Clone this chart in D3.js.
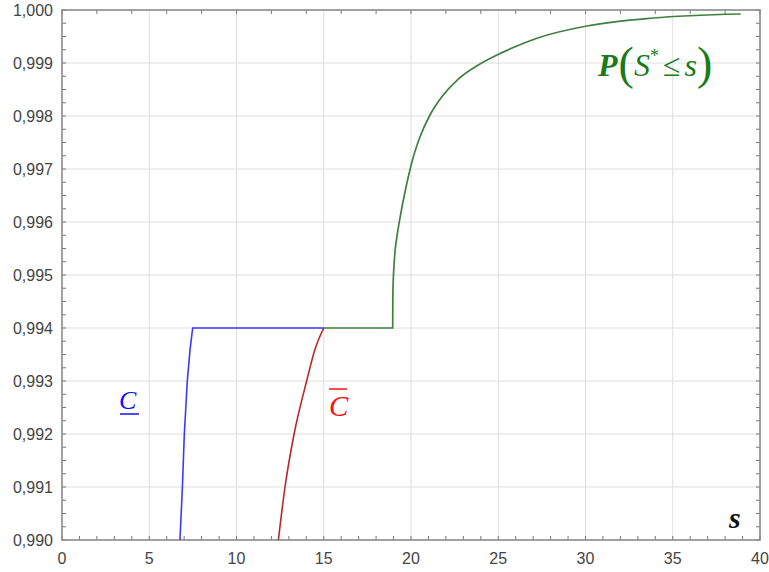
<!DOCTYPE html>
<html><head><meta charset="utf-8">
<script src="https://cdn.jsdelivr.net/npm/d3@7"></script>
<style>body{margin:0;background:#fff}</style>
</head><body><svg id="c" width="769" height="572"></svg>
<script>
const xTicks = [0,5,10,15,20,25,30,35,40];
const yTicks = [0.990,0.991,0.992,0.993,0.994,0.995,0.996,0.997,0.998,0.999,1.000];
const blueS = [6.76,6.90,7.01,7.18,7.34,7.49,15.0];
const blueP = [0.990,0.991,0.992,0.993,0.9936,0.994,0.994];
const redS = [12.40,12.78,13.30,14.02,14.50,15.0];
const redP = [0.990,0.991,0.992,0.993,0.9936,0.994];
const greenS = [15.0,18.95,18.959,18.984,19.024,19.082,19.208,19.368,19.655,19.884,20.131,20.514,21.088,21.758,22.709,23.855,24.812,25.861,27.259,30.067,33.85,38.89];
const greenP = [0.994,0.994,0.994566,0.994906,0.995170,0.995434,0.995755,0.996075,0.996566,0.996906,0.997226,0.997604,0.998019,0.998358,0.998698,0.998962,0.999132,0.999292,0.999472,0.999698,0.999849,0.999925];

const svg = d3.select('#c');
const L=62,R=760,T=10,B=540;
const x = d3.scaleLinear().domain([0,40]).range([L,R]);
const y = d3.scaleLinear().domain([0.990,1.000]).range([B,T]);

// grid
svg.append('g').selectAll('line').data(xTicks.slice(1,-1)).join('line')
  .attr('x1',d=>x(d)).attr('x2',d=>x(d)).attr('y1',T).attr('y2',B)
  .attr('stroke','#dedede').attr('stroke-width',1);
svg.append('g').selectAll('line').data(yTicks.slice(1,-1)).join('line')
  .attr('y1',d=>y(d)).attr('y2',d=>y(d)).attr('x1',L).attr('x2',R)
  .attr('stroke','#dedede').attr('stroke-width',1);

// minor ticks
const tickCol='#777';
const bx = d3.range(0,41,1), tx = d3.range(0,41,2), ly = d3.range(0,41).map(i=>0.990+i*0.00025);
svg.append('g').selectAll('line').data(bx).join('line')
  .attr('x1',d=>x(d)).attr('x2',d=>x(d)).attr('y1',B).attr('y2',B-4).attr('stroke',tickCol);
svg.append('g').selectAll('line').data(tx).join('line')
  .attr('x1',d=>x(d)).attr('x2',d=>x(d)).attr('y1',T).attr('y2',T+4).attr('stroke',tickCol);
svg.append('g').selectAll('line').data(ly).join('line')
  .attr('y1',d=>y(d)).attr('y2',d=>y(d)).attr('x1',L).attr('x2',L+4).attr('stroke',tickCol);
svg.append('g').selectAll('line').data(ly).join('line')
  .attr('y1',d=>y(d)).attr('y2',d=>y(d)).attr('x1',R).attr('x2',R-4).attr('stroke',tickCol);

// frame
svg.append('rect').attr('x',L).attr('y',T).attr('width',R-L).attr('height',B-T)
  .attr('fill','none').attr('stroke','#8a8a8a').attr('stroke-width',1.6);

// tick labels
const fmt = d=>d3.format('.3f')(d).replace('.',',');
svg.append('g').selectAll('text').data(yTicks).join('text')
  .attr('x',53).attr('y',d=>y(d)+5.5).attr('text-anchor','end')
  .attr('font-family','Liberation Sans, Arial, sans-serif').attr('font-size',16)
  .attr('fill','#444').text(fmt);
svg.append('g').selectAll('text').data(xTicks).join('text')
  .attr('x',d=>x(d)).attr('y',564).attr('text-anchor','middle')
  .attr('font-family','Liberation Sans, Arial, sans-serif').attr('font-size',16)
  .attr('fill','#444').text(d=>d);

// lines
const zip=(a,b)=>a.map((v,i)=>[v,b[i]]);
const mk = c => d3.line().x(d=>x(d[0])).y(d=>y(d[1])).curve(c);
svg.append('path').attr('d',mk(d3.curveMonotoneX)(zip(greenS,greenP)))
  .attr('fill','none').attr('stroke','#3f8040').attr('stroke-width',1.7);
svg.append('path').attr('d',mk(d3.curveMonotoneX)(zip(redS,redP)))
  .attr('fill','none').attr('stroke','#b82828').attr('stroke-width',1.6);
svg.append('path').attr('d',mk(d3.curveLinear)(zip(blueS,blueP)))
  .attr('fill','none').attr('stroke','#3a3aff').attr('stroke-width',1.6);

// labels
const serif='Liberation Serif, Times New Roman, serif';
svg.append('text').attr('x',119).attr('y',409).attr('font-family',serif).attr('font-style','italic')
  .attr('font-size',26).attr('fill','#1010ff').text('C');
svg.append('line').attr('x1',120).attr('x2',139).attr('y1',414).attr('y2',414).attr('stroke','#1010ff').attr('stroke-width',1.5);
svg.append('text').attr('x',329).attr('y',416).attr('font-family',serif).attr('font-style','italic')
  .attr('font-size',29).attr('fill','#ff1010').text('C');
svg.append('line').attr('x1',329).attr('x2',347).attr('y1',389).attr('y2',389).attr('stroke','#ff1010').attr('stroke-width',1.5);
svg.append('text').attr('x',729).attr('y',528).attr('font-family',serif).attr('font-style','italic').attr('font-weight','bold')
  .attr('font-size',30).attr('fill','#111').text('s');

const g = '#1a7a1a';
const pt = svg.append('text').attr('x',598).attr('y',76).attr('font-family',serif).attr('fill',g).attr('font-size',32);
pt.append('tspan').attr('font-style','italic').attr('font-weight','bold').text('P');
pt.append('tspan').attr('font-size',46).attr('dy',3).attr('dx',1).text('(');
pt.append('tspan').attr('font-style','italic').attr('font-size',32).attr('dy',-3).text('S');
pt.append('tspan').attr('font-size',18).attr('dy',-14).text('*');
pt.append('tspan').attr('font-size',32).attr('dy',14).attr('dx',4).text('≤');
pt.append('tspan').attr('font-style','italic').attr('dx',4).text('s');
pt.append('tspan').attr('font-size',46).attr('dy',3).text(')');
</script></body></html>
